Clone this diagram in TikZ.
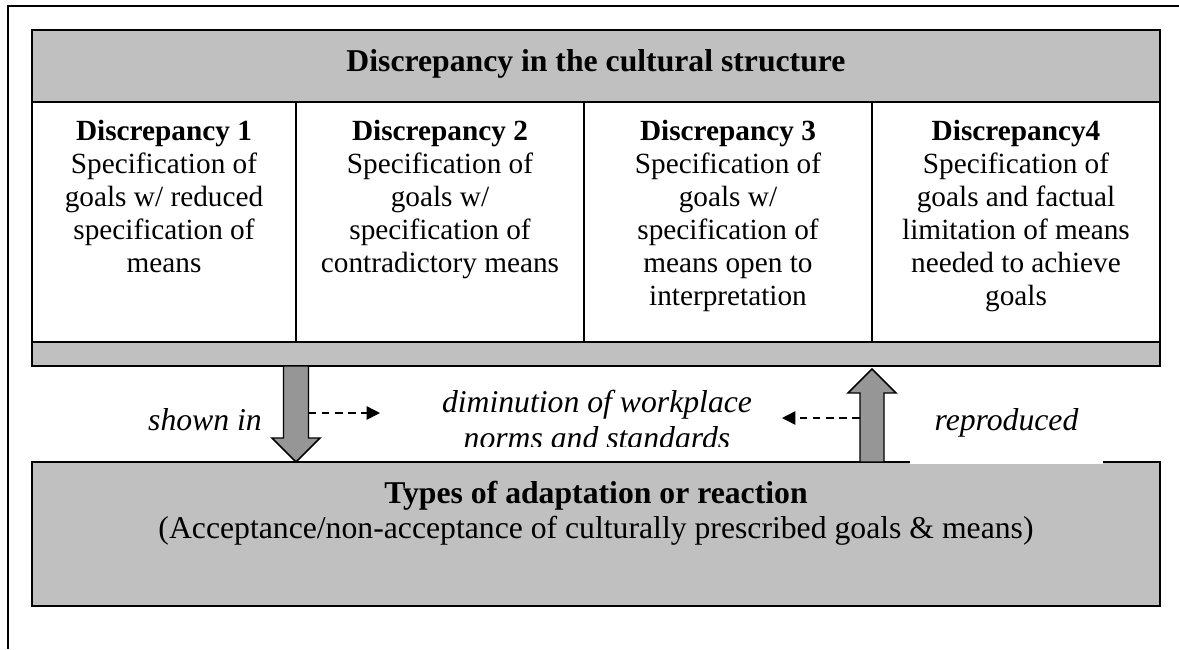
\documentclass[tikz,border=0pt]{standalone}
\usepackage{fontspec}
\setmainfont{Liberation Serif}
\usetikzlibrary{arrows.meta}
\definecolor{panelgray}{HTML}{C0C0C0}
\definecolor{shaftgray}{HTML}{969696}
\tikzset{
  panel/.style={draw, fill=panelgray, line width=0.8pt},
  cellline/.style={line width=0.6pt},
  heading/.style={font=\fontsize{13}{15}\selectfont\bfseries, inner sep=0pt},
  celltext/.style={font=\fontsize{12}{13.5}\selectfont, align=center, inner sep=0pt, anchor=north},
  flowlabel/.style={font=\fontsize{13}{14.8}\selectfont\itshape, inner sep=0pt, align=center},
  bigarrow/.style={draw, fill=shaftgray, line width=0.6pt, line join=miter},
  hint/.style={-{Triangle[length=5.5pt, width=5.5pt]}, dash pattern=on 3.2pt off 2.2pt, line width=0.6pt}
}

\begin{document}
\begin{tikzpicture}[x=0.41pt, y=-0.41pt]
  \useasboundingbox (0,0) rectangle (1179,649);
  % page frame, cut at right and bottom
  \draw[line width=0.8pt] (8,649) -- (8,6) -- (1179,6);

  % cultural structure panel
  \draw[panel] (32,30) rectangle (1160,366);
  \draw[cellline, fill=white] (32,102) rectangle (1160,342);
  \foreach \x in {296,584,872}
    \draw[cellline] (\x,102) -- (\x,342);
  \draw[line width=0.8pt] (32,30) rectangle (1160,366);
  \node[heading, anchor=base] (culture) at (596,71) {Discrepancy in the cultural structure};

  \node[celltext] (disc1) at (164,120) {\textbf{Discrepancy 1}\\Specification of\\goals w/ reduced\\specification of\\means};
  \node[celltext] (disc2) at (440,120) {\textbf{Discrepancy 2}\\Specification of\\goals w/\\specification of\\contradictory means};
  \node[celltext] (disc3) at (728,120) {\textbf{Discrepancy 3}\\Specification of\\goals w/\\specification of\\means open to\\interpretation};
  \node[celltext] (disc4) at (1016,120) {\textbf{Discrepancy4}\\Specification of\\goals and factual\\limitation of means\\needed to achieve\\goals};

  % adaptation panel
  \draw[panel] (32,462) rectangle (1160,606);
  \node[font=\fontsize{13}{14.4}\selectfont, align=center, inner sep=0pt, anchor=north] (adapt) at (596,481)
    {\textbf{Types of adaptation or reaction}\\(Acceptance/non-acceptance of culturally prescribed goals \& means)};

  % block arrows between the panels
  \draw[bigarrow] (283.5,366) -- (308.5,366) -- (308.5,438) -- (320,438) -- (296,462)
    -- (272,438) -- (283.5,438) -- cycle;
  \draw[bigarrow] (860,462) -- (884,462) -- (884,393) -- (896,393) -- (872,369)
    -- (848,393) -- (860,393) -- cycle;

  % labels
  \node[flowlabel, anchor=base] (shown) at (205,430) {shown in};
  \node[flowlabel, fill=white, minimum width=79pt, minimum height=34pt] (repro) at (1006.5,422.5) {reproduced};
  \begin{scope}
    \clip (420,380) rectangle (780,446);
    \node[flowlabel, anchor=north] (dimin) at (597,390) {diminution of workplace\\norms and standards};
  \end{scope}

  \coordinate (fromdown) at (308.5,413);
  \coordinate (todimin) at (380,413);
  \coordinate (fromup) at (860,418);
  \coordinate (backdimin) at (782,418);
  \draw[hint] (fromdown) -- (todimin);
  \draw[hint] (fromup) -- (backdimin);
\end{tikzpicture}
\end{document}
